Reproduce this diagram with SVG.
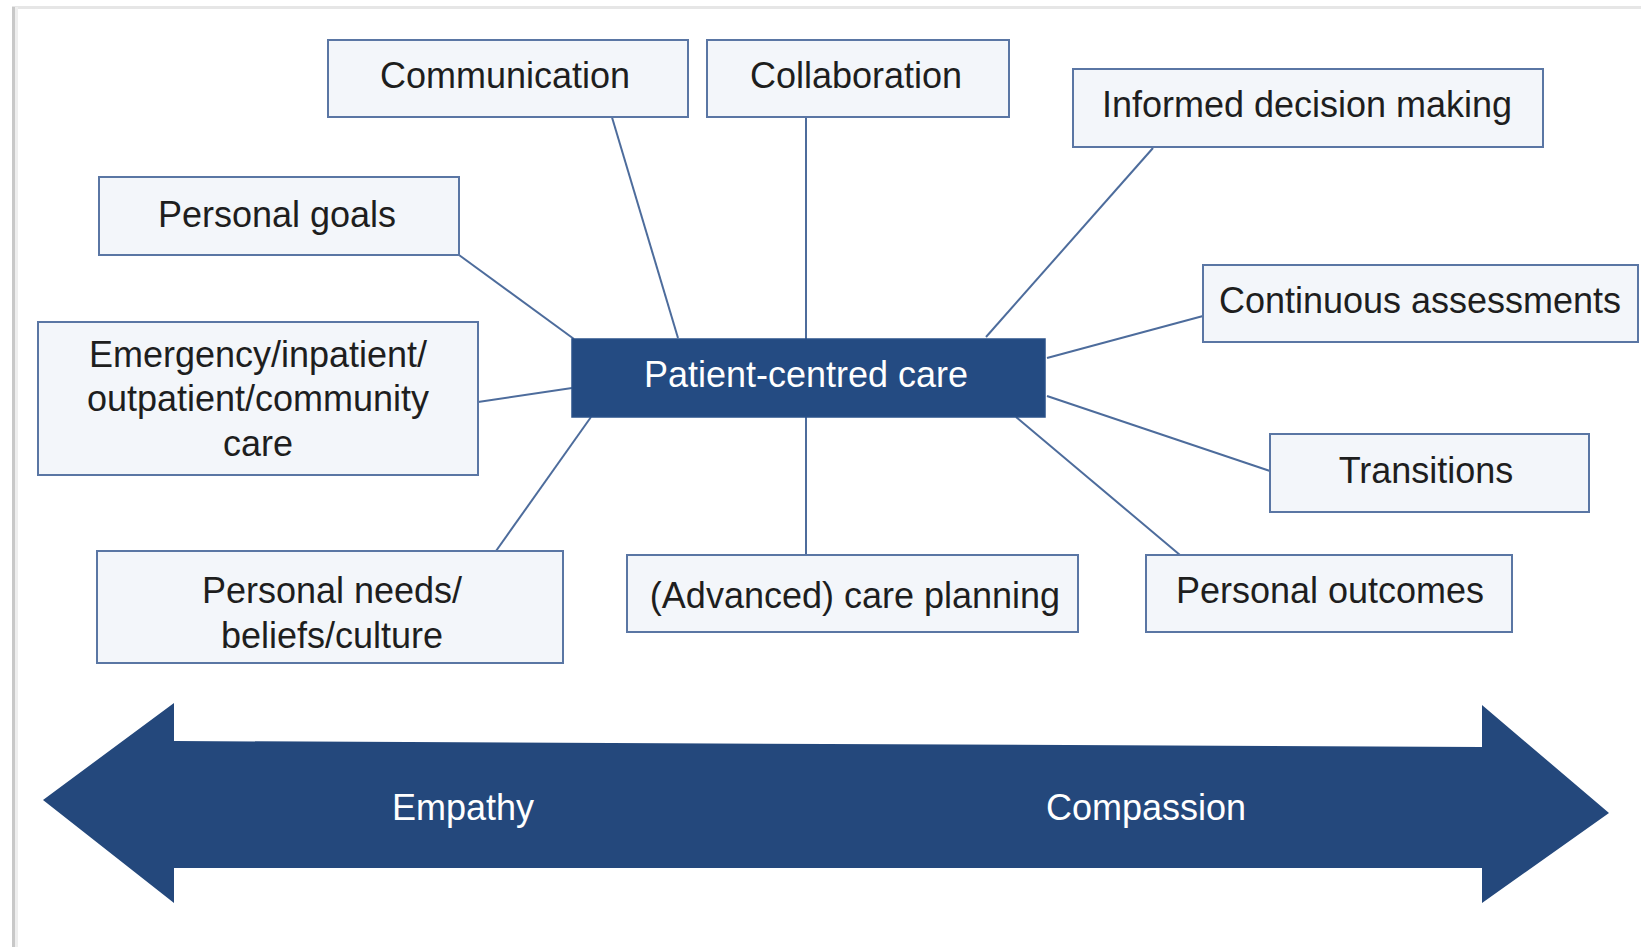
<svg xmlns="http://www.w3.org/2000/svg" width="1641" height="947" viewBox="0 0 1641 947">
  <style>
    .box { fill: #f3f6fa; stroke: #5a76a4; stroke-width: 2; }
    .hub { fill: #244b82; stroke: #2a5189; stroke-width: 1.5; }
    .lbl { font-family: "Liberation Sans", Arial, sans-serif; font-size: 36px; fill: #1e1e1e; text-anchor: middle; }
    .wlbl { font-family: "Liberation Sans", Arial, sans-serif; font-size: 36px; fill: #ffffff; text-anchor: middle; }
    .con line { stroke: #4d6c9c; stroke-width: 2; }
  </style>
  <rect x="0" y="0" width="1641" height="947" fill="#ffffff"/>
  <g id="frame">
    <rect x="12" y="6" width="1640" height="3" fill="#e6e6e6"/>
    <rect x="12" y="7" width="3" height="940" fill="#c8c8c8"/>
    <rect x="15" y="7" width="3" height="940" fill="#eeeeee"/>
  </g>
  <g id="connectors" class="con">
    <line x1="611" y1="114" x2="678" y2="338"/>
    <line x1="459" y1="255" x2="574" y2="339"/>
    <line x1="478" y1="402" x2="572" y2="388"/>
    <line x1="591" y1="417" x2="496" y2="551"/>
    <line x1="806" y1="117" x2="806" y2="339"/>
    <line x1="806" y1="417" x2="806" y2="555"/>
    <line x1="1153" y1="148" x2="986" y2="337"/>
    <line x1="1203" y1="316" x2="1047" y2="358"/>
    <line x1="1047" y1="396" x2="1270" y2="471"/>
    <line x1="1016" y1="417" x2="1180" y2="555"/>
  </g>
  <g id="communication">
    <rect class="box" x="328" y="40" width="360" height="77"/>
    <text class="lbl" x="505" y="88">Communication</text>
  </g>
  <g id="collaboration">
    <rect class="box" x="707" y="40" width="302" height="77"/>
    <text class="lbl" x="856" y="88">Collaboration</text>
  </g>
  <g id="informed-decision-making">
    <rect class="box" x="1073" y="69" width="470" height="78"/>
    <text class="lbl" x="1307" y="117">Informed decision making</text>
  </g>
  <g id="continuous-assessments">
    <rect class="box" x="1203" y="265" width="435" height="77"/>
    <text class="lbl" x="1420" y="313">Continuous assessments</text>
  </g>
  <g id="personal-goals">
    <rect class="box" x="99" y="177" width="360" height="78"/>
    <text class="lbl" x="277" y="227">Personal goals</text>
  </g>
  <g id="care-settings">
    <rect class="box" x="38" y="322" width="440" height="153"/>
    <text class="lbl" x="258" y="367">Emergency/inpatient/</text>
    <text class="lbl" x="258" y="411">outpatient/community</text>
    <text class="lbl" x="258" y="456">care</text>
  </g>
  <g id="patient-centred-care">
    <rect class="hub" x="572" y="339" width="473" height="78"/>
    <text class="wlbl" x="806" y="387">Patient-centred care</text>
  </g>
  <g id="transitions">
    <rect class="box" x="1270" y="434" width="319" height="78"/>
    <text class="lbl" x="1426" y="483">Transitions</text>
  </g>
  <g id="personal-needs">
    <rect class="box" x="97" y="551" width="466" height="112"/>
    <text class="lbl" x="332" y="603">Personal needs/</text>
    <text class="lbl" x="332" y="648">beliefs/culture</text>
  </g>
  <g id="advanced-care-planning">
    <rect class="box" x="627" y="555" width="451" height="77"/>
    <text class="lbl" x="855" y="608">(Advanced) care planning</text>
  </g>
  <g id="personal-outcomes">
    <rect class="box" x="1146" y="555" width="366" height="77"/>
    <text class="lbl" x="1330" y="603">Personal outcomes</text>
  </g>
  <g id="empathy-compassion-arrow">
    <polygon fill="#24487c" points="43,800 174,703 174,741 1482,747 1482,705 1609,813 1482,903 1482,868 174,868 174,903"/>
    <text class="wlbl" x="463" y="820">Empathy</text>
    <text class="wlbl" x="1146" y="820">Compassion</text>
  </g>
</svg>
